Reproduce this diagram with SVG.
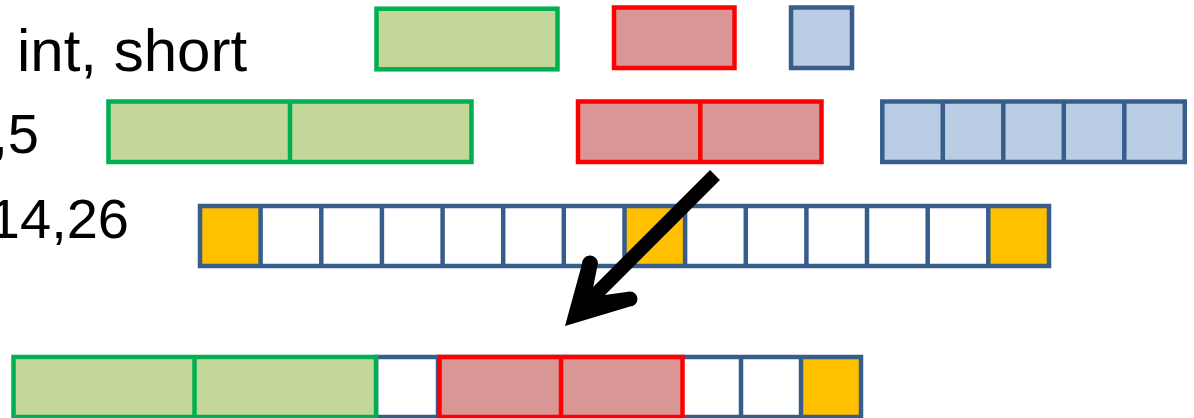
<svg xmlns="http://www.w3.org/2000/svg" width="1194" height="418" viewBox="0 0 1194 418">
<style>
text{font-family:"Liberation Sans",Arial,sans-serif;fill:#000}
.g{fill:#C4D79B;stroke:#00B050;stroke-width:4.5}
.r{fill:#DA9694;stroke:#FF0000;stroke-width:4.5}
.b{fill:#B9CDE5;stroke:#385D8A;stroke-width:4.5}
.gl{stroke:#00B050;stroke-width:4.5}
.rl{stroke:#FF0000;stroke-width:4.5}
.bl{stroke:#385D8A;stroke-width:4.5}
.of{fill:#FFC000;stroke:none}
</style>
<rect width="1194" height="418" fill="#FFFFFF"/>
<g id="labels">
<text x="17" y="71" font-size="60">int, short</text>
<text x="39" y="153" font-size="56" text-anchor="end">,5</text>
<text x="129" y="238" font-size="56" text-anchor="end">14,26</text>
</g>
<g id="row1">
<rect id="int" class="g" x="376.5" y="8.7" width="181" height="60.6"/>
<rect id="short" class="r" x="614" y="7.5" width="120.5" height="60.5"/>
<rect id="char" class="b" x="791" y="7.5" width="61" height="60.5"/>
</g>
<g id="row2">
<g id="ints">
<rect class="g" x="108.5" y="101.5" width="363" height="60.5"/>
<line class="gl" x1="290" y1="101.5" x2="290" y2="162"/>
</g>
<g id="shorts">
<rect class="r" x="578" y="101.5" width="243.5" height="60.5"/>
<line class="rl" x1="700.3" y1="101.5" x2="700.3" y2="162"/>
</g>
<g id="chars">
<rect class="b" x="882.3" y="101.5" width="302.5" height="60.5"/>
<line class="bl" x1="942.8" y1="101.5" x2="942.8" y2="162"/>
<line class="bl" x1="1003.3" y1="101.5" x2="1003.3" y2="162"/>
<line class="bl" x1="1063.8" y1="101.5" x2="1063.8" y2="162"/>
<line class="bl" x1="1124.3" y1="101.5" x2="1124.3" y2="162"/>
</g>
</g>
<g id="row3">
<rect class="of" x="200" y="206" width="60.6" height="60"/>
<rect class="of" x="624.5" y="206" width="60.6" height="60"/>
<rect class="of" x="988.3" y="206" width="60.7" height="60"/>
<rect fill="none" class="bl" x="200" y="206" width="849" height="60"/>
<g class="bl">
<line x1="260.6" y1="206" x2="260.6" y2="266"/>
<line x1="321.3" y1="206" x2="321.3" y2="266"/>
<line x1="381.9" y1="206" x2="381.9" y2="266"/>
<line x1="442.6" y1="206" x2="442.6" y2="266"/>
<line x1="503.2" y1="206" x2="503.2" y2="266"/>
<line x1="563.8" y1="206" x2="563.8" y2="266"/>
<line x1="624.5" y1="206" x2="624.5" y2="266"/>
<line x1="685.1" y1="206" x2="685.1" y2="266"/>
<line x1="745.8" y1="206" x2="745.8" y2="266"/>
<line x1="806.4" y1="206" x2="806.4" y2="266"/>
<line x1="867" y1="206" x2="867" y2="266"/>
<line x1="927.7" y1="206" x2="927.7" y2="266"/>
<line x1="988.3" y1="206" x2="988.3" y2="266"/>
</g>
</g>
<g id="row4">
<rect class="of" x="801" y="357" width="60" height="60"/>
<rect fill="none" class="bl" x="376" y="357" width="485" height="60"/>
<g class="bl">
<line x1="438" y1="357" x2="438" y2="417"/>
<line x1="741" y1="357" x2="741" y2="417"/>
<line x1="801" y1="357" x2="801" y2="417"/>
</g>
<g id="ints4">
<rect class="g" x="13.5" y="357" width="362.5" height="60"/>
<line class="gl" x1="194.5" y1="357" x2="194.5" y2="417"/>
</g>
<g id="shorts4">
<rect class="r" x="439.5" y="357" width="243" height="60"/>
<line class="rl" x1="561" y1="357" x2="561" y2="417"/>
</g>
</g>
<g id="connectors">
<line x1="715" y1="175" x2="596" y2="294" stroke="#000" stroke-width="14"/>
<path d="M565,326 L582,264 A8,8 0 0 1 598,263 L593,288 L600,295 L605,295 L630,291.5 A7.5,7.5 0 0 1 630,306.5 Z" fill="#000"/>
</g>
</svg>
